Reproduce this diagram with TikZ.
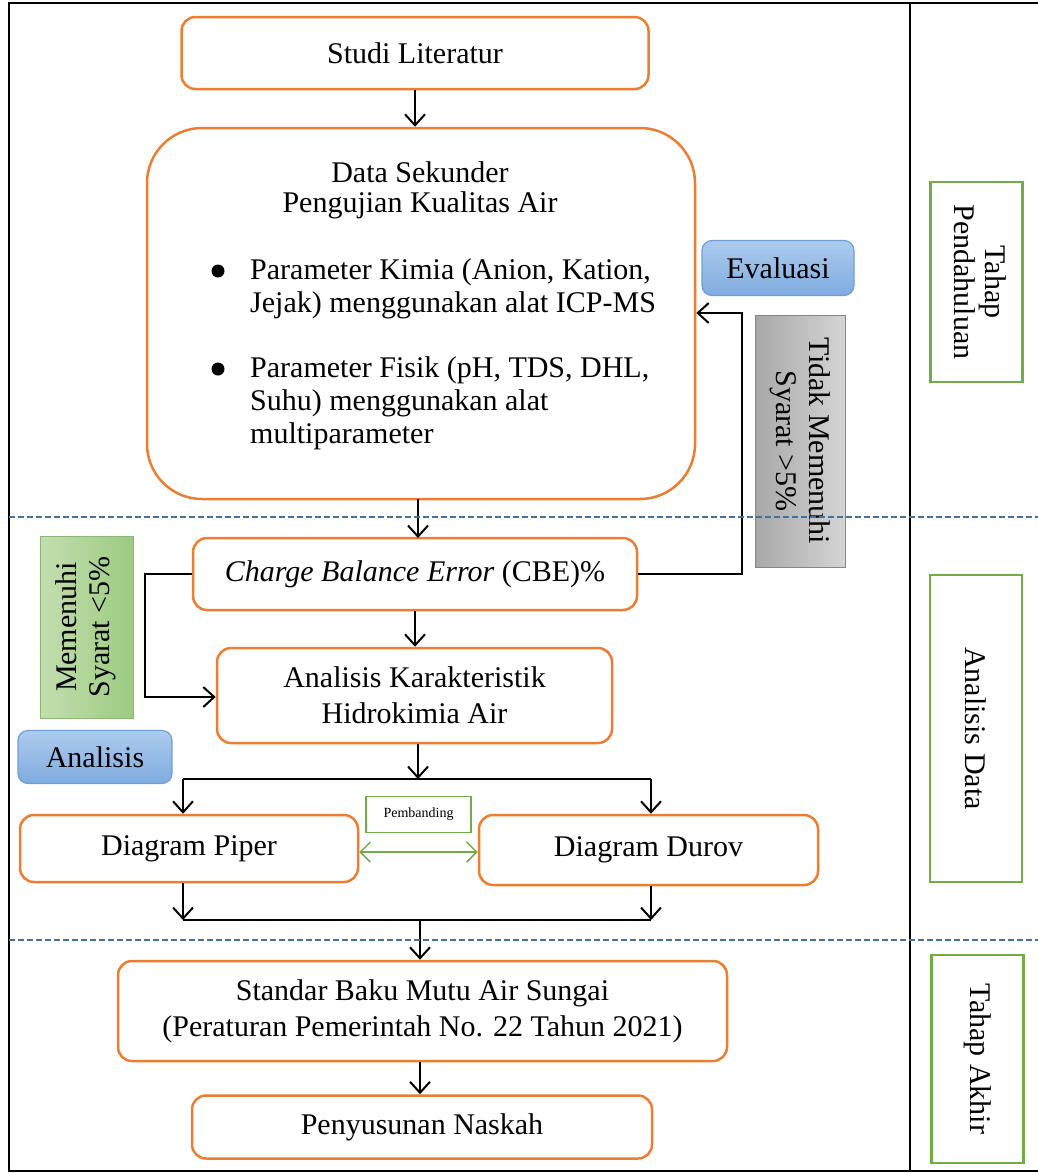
\documentclass[tikz,border=0pt]{standalone}
\usepackage{fontspec}
\usepackage{graphicx}
\setmainfont{Liberation Serif}
\usetikzlibrary{arrows.meta}
\definecolor{boxorange}{HTML}{ED7D31}
\definecolor{boxgreen}{HTML}{70AD47}
\definecolor{dashblue}{HTML}{41719C}
\definecolor{evtop}{HTML}{ADCBEE}
\definecolor{evbot}{HTML}{7FACE0}
\definecolor{evline}{HTML}{6F9FD6}
\definecolor{graya}{HTML}{A8A8A8}
\definecolor{grayb}{HTML}{D4D4D4}
\definecolor{grna}{HTML}{C3DEB0}
\definecolor{grnb}{HTML}{9CCB80}
\begin{document}
\begin{tikzpicture}[x=1pt,y=-1pt,
  every node/.style={font=\fontsize{30}{36}\selectfont},
  procbox/.style={draw=boxorange,line width=2.5pt,rounded corners=14pt,fill=white,inner sep=0pt,align=center},
  sidebox/.style={draw=boxgreen,line width=2.5pt,fill=white,inner sep=0pt,align=center},
  bluebox/.style={draw=evline,line width=1.2pt,rounded corners=10pt,top color=evtop,bottom color=evbot,inner sep=0pt},
  txt/.style={inner sep=0pt,anchor=west},
  flow/.style={line width=2pt,-{Straight Barb[length=11pt,width=20pt,line width=2pt]}},
  plain/.style={line width=2pt},
  sep/.style={dashblue,line width=2pt,dash pattern=on 6pt off 3pt},
  frame/.style={line width=2.5pt}
]
\useasboundingbox (0,0) rectangle (1038,1173);

% frame
\draw[frame] (1038,3) -- (9,3) -- (9,1171) -- (1038,1171);
\draw[frame] (910,3) -- (910,1171);

% process boxes
\node[procbox,minimum width=467,minimum height=72] (studi) at (415,53) {Studi Literatur};
\node[procbox,rounded corners=55pt,minimum width=548,minimum height=371] (ds) at (421,313.5) {};
\node[txt,anchor=center] (ds1) at (420,172) {Data Sekunder};
\node[txt,anchor=center] (ds2) at (420,205) {Pengujian Kualitas Air};
\node[circle,fill=black,inner sep=0pt,minimum size=13pt] (b1) at (218,271) {};
\node[txt] (p1) at (250,272) {Parameter Kimia (Anion, Kation,};
\node[txt] (p2) at (250,305) {Jejak) menggunakan alat ICP-MS};
\node[circle,fill=black,inner sep=0pt,minimum size=13pt] (b2) at (218,369) {};
\node[txt] (p3) at (250,370) {Parameter Fisik (pH, TDS, DHL,};
\node[txt] (p4) at (250,403) {Suhu) menggunakan alat};
\node[txt] (p5) at (250,436) {multiparameter};

\node[procbox,minimum width=444,minimum height=72] (cbe) at (415,574) {\textit{Charge Balance Error} (CBE)\%};
\node[procbox,minimum width=395,minimum height=95] (ak) at (414.5,695.5) {Analisis Karakteristik\\Hidrokimia Air};
\node[procbox,minimum width=338,minimum height=67] (piper) at (189,848.5) {Diagram Piper};
\node[procbox,minimum width=339,minimum height=70] (durov) at (648.5,850) {Diagram Durov};
\node[procbox,minimum width=609,minimum height=100] (std) at (422.5,1011) {Standar Baku Mutu Air Sungai\\(Peraturan Pemerintah No. 22 Tahun 2021)};
\node[procbox,minimum width=460,minimum height=63] (nas) at (422,1127) {Penyusunan Naskah};

% labels
\node[bluebox,minimum width=152,minimum height=55] (eval) at (778,268) {Evaluasi};
\node[bluebox,minimum width=154,minimum height=53] (anl) at (95,757) {Analisis};
\node[draw=boxgreen,line width=1.8pt,fill=white,minimum width=105,minimum height=36,inner sep=0pt,font=\fontsize{14}{16}\selectfont] (pemb) at (418.5,814.5) {Pembanding};
\node[draw=graya!80!black,line width=0.6pt,left color=graya,right color=grayb,minimum width=90,minimum height=252,inner sep=0pt,font=\fontsize{30}{33}\selectfont] (tms) at (800,441)
  {\rotatebox{-90}{\begin{tabular}{@{}c@{}}Tidak Memenuhi\\Syarat >5\%\end{tabular}}};
\node[draw=grnb!90!black,line width=0.6pt,left color=grna,right color=grnb,minimum width=93,minimum height=182,inner sep=0pt,font=\fontsize{30}{33}\selectfont] (ms) at (86.5,627)
  {\rotatebox{90}{\begin{tabular}{@{}c@{}}Memenuhi\\Syarat <5\%\end{tabular}}};

% side stage boxes
\node[sidebox,minimum width=92,minimum height=200,font=\fontsize{30}{31}\selectfont] (tp) at (976.5,282)
  {\rotatebox{-90}{\begin{tabular}{@{}c@{}}Tahap\\Pendahuluan\end{tabular}}};
\node[sidebox,minimum width=92,minimum height=307] (ad) at (976,728.5)
  {\rotatebox{-90}{Analisis Data}};
\node[sidebox,minimum width=92,minimum height=208] (ta) at (977.5,1059)
  {\rotatebox{-90}{Tahap Akhir}};

% connectors
\coordinate (a1) at (418,499);
\coordinate (a2) at (418,538);
\draw[flow] (studi.south) -- (studi.south |- ds.north);
\draw[flow] (a1) -- (a2);
\draw[flow] (cbe.south) -- (cbe.south |- ak.north);

\coordinate (lr1) at (742,574);
\coordinate (lr2) at (742,313);
\draw[flow] (cbe.east) -- (lr1) -- (lr2) -- (lr2 -| ds.east);

\coordinate (ll1) at (145,574);
\coordinate (ll2) at (145,697);
\draw[flow] (cbe.west) -- (ll1) -- (ll2) -- (ll2 -| ak.west);

\coordinate (s0) at (418,779);
\coordinate (sL) at (183,779);
\coordinate (sR) at (651,779);
\draw[flow] (ak.south -| s0) -- (s0);
\draw[plain] (sL) -- (sR);
\draw[flow] (sL) -- (sL |- piper.north);
\draw[flow] (sR) -- (sR |- durov.north);

\draw[boxgreen,line width=1.5pt,{Straight Barb[length=10pt,width=20pt,line width=1.5pt]}-{Straight Barb[length=10pt,width=20pt,line width=1.5pt]}] (piper.east |- 0,852) -- (durov.west |- 0,852);

\coordinate (mL) at (183,920);
\coordinate (mR) at (651,920);
\coordinate (m0) at (420,920);
\draw[flow] (piper.south -| mL) -- (mL);
\draw[flow] (durov.south -| mR) -- (mR);
\draw[plain] (mL) -- (mR);
\draw[flow] (m0) -- (m0 |- std.north);
\draw[flow] (std.south -| m0) -- (m0 |- nas.north);

% stage separators
\draw[sep] (9,517) -- (1038,517);
\draw[sep] (9,940) -- (1038,940);
\end{tikzpicture}
\end{document}
